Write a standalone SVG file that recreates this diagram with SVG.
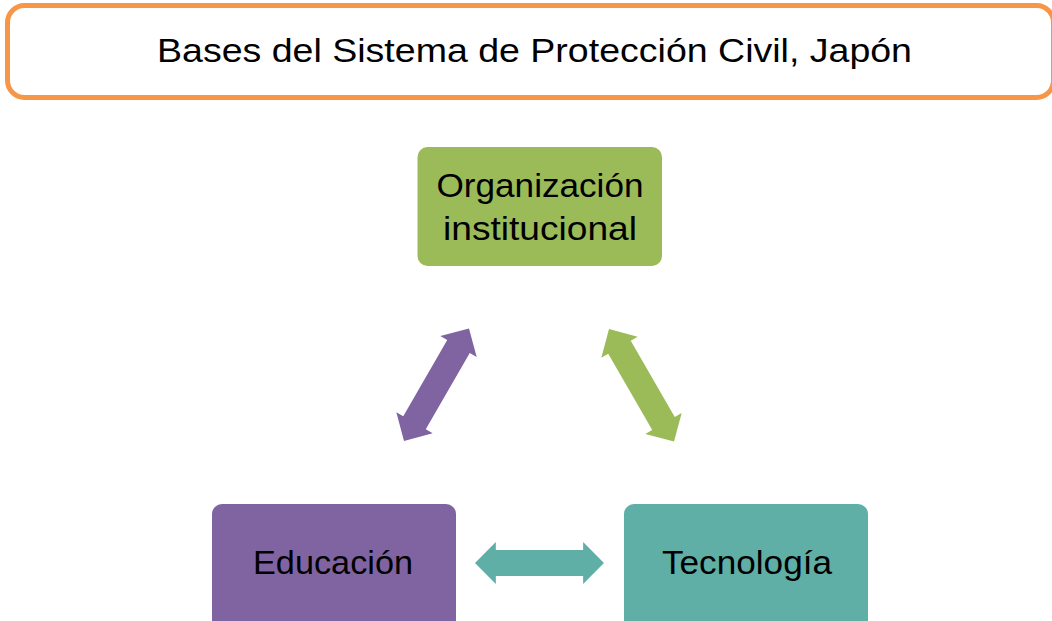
<svg xmlns="http://www.w3.org/2000/svg" xmlns:xlink="http://www.w3.org/1999/xlink" width="1052" height="621" viewBox="0 0 1052 621">
  <style>
    .lbl { font-family: "Liberation Sans", Arial, sans-serif; font-size: 33px; fill: #000; text-anchor: middle; }
    .big { font-size: 34px; }
    .node { stroke: none; }
  </style>
  <defs>
    <polygon id="dblArrow" points="0,0 21,-21 21,-13 109,-13 109,-21 130,0 109,21 109,13 21,13 21,21"/>
  </defs>
  <rect width="1052" height="621" fill="#ffffff"/>

  <g id="title">
    <rect x="7.5" y="5.5" width="1046" height="92" rx="17" ry="17" fill="#ffffff" stroke="#F79646" stroke-width="5"/>
    <text class="lbl big" x="534.5" y="62" textLength="755" lengthAdjust="spacingAndGlyphs">Bases del Sistema de Protección Civil, Japón</text>
  </g>

  <g id="connectors">
    <use xlink:href="#dblArrow" fill="#8064A2" transform="translate(404,441) rotate(-60)"/>
    <use xlink:href="#dblArrow" fill="#9BBB59" transform="translate(609,329) rotate(60)"/>
    <use xlink:href="#dblArrow" fill="#5FAFA6" transform="translate(475,563) scale(0.992,1)"/>
  </g>

  <g id="node-organizacion">
    <rect class="node" x="417.5" y="147" width="244.5" height="119" rx="10" ry="10" fill="#9BBB59"/>
    <text class="lbl big" x="540" y="197" textLength="207" lengthAdjust="spacingAndGlyphs">Organización</text>
    <text class="lbl big" x="540" y="240" textLength="194" lengthAdjust="spacingAndGlyphs">institucional</text>
  </g>

  <g id="node-educacion">
    <rect class="node" x="212" y="504" width="244" height="128" rx="10" ry="10" fill="#8064A2"/>
    <text class="lbl" x="333" y="574" textLength="160" lengthAdjust="spacingAndGlyphs">Educación</text>
  </g>

  <g id="node-tecnologia">
    <rect class="node" x="624" y="504" width="244" height="128" rx="10" ry="10" fill="#5FAFA6"/>
    <text class="lbl" x="747" y="574" textLength="170" lengthAdjust="spacingAndGlyphs">Tecnología</text>
  </g>
</svg>
